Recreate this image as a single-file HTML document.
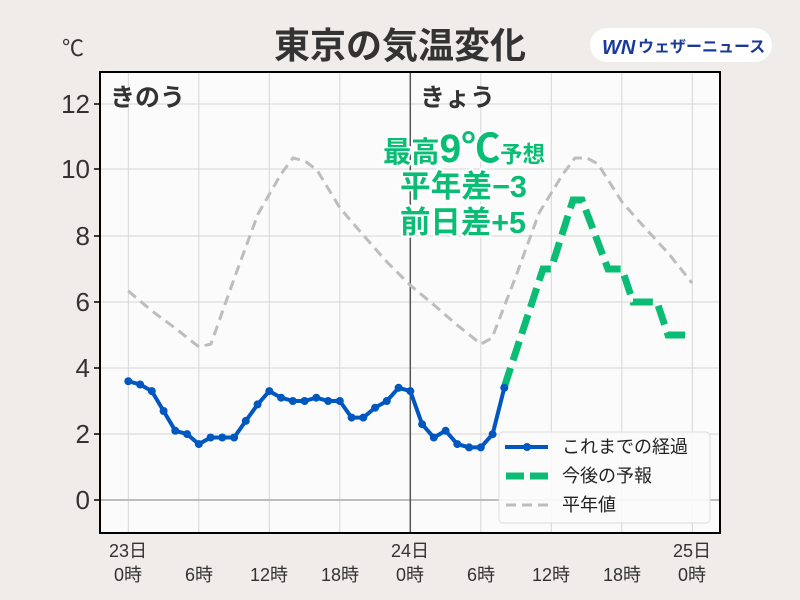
<!DOCTYPE html><html><head><meta charset="utf-8"><style>body{margin:0;background:#efecea;}svg{display:block;font-family:"Liberation Sans","Noto Sans CJK JP",sans-serif;}</style></head><body>
<svg width="800" height="600" viewBox="0 0 800 600">
<rect width="800" height="600" fill="#efecea"/>
<text x="400" y="58" text-anchor="middle" font-size="36" font-weight="bold" fill="#333">東京の気温変化</text>
<rect x="590" y="28" width="182" height="34" rx="17" fill="#fff"/>
<text x="602" y="54" font-size="20" font-weight="bold" font-style="italic" fill="#1a3a9a">WN</text>
<text x="638" y="52" font-size="16" font-weight="bold" fill="#1a3a9a">ウェザーニュース</text>
<text x="62" y="56" font-size="22" fill="#333">℃</text>
<rect x="100" y="72" width="620" height="461" fill="#fcfbfc"/>
<g stroke="#d6d6d6" stroke-width="1">
<line x1="100" x2="720" y1="104" y2="104"/><line x1="100" x2="720" y1="169" y2="169"/><line x1="100" x2="720" y1="236" y2="236"/><line x1="100" x2="720" y1="302" y2="302"/><line x1="100" x2="720" y1="368" y2="368"/><line x1="100" x2="720" y1="434" y2="434"/>
<line x1="128.3" x2="128.3" y1="72" y2="533"/><line x1="198.8" x2="198.8" y1="72" y2="533"/><line x1="269.3" x2="269.3" y1="72" y2="533"/><line x1="339.8" x2="339.8" y1="72" y2="533"/><line x1="480.8" x2="480.8" y1="72" y2="533"/><line x1="551.3" x2="551.3" y1="72" y2="533"/><line x1="621.8" x2="621.8" y1="72" y2="533"/><line x1="692.3" x2="692.3" y1="72" y2="533"/>
</g>
<line x1="100" x2="720" y1="500" y2="500" stroke="#bdbdbd" stroke-width="2"/>
<line x1="410.3" x2="410.3" y1="72" y2="533" stroke="#555" stroke-width="1.5"/>
<text x="110" y="106" font-size="25" font-weight="bold" fill="#333">きのう</text>
<text x="420" y="106" font-size="25" font-weight="bold" fill="#333">きょう</text>
<g font-weight="bold" fill="#0bbd74" font-size="31" stroke="#fff" stroke-width="4" paint-order="stroke">
<text x="383" y="162" textLength="162" lengthAdjust="spacingAndGlyphs"><tspan font-size="29">最高</tspan><tspan font-size="40">9℃</tspan><tspan font-size="23">予想</tspan></text>
<text x="400" y="197" textLength="127" lengthAdjust="spacingAndGlyphs">平年差−3</text>
<text x="400" y="233" textLength="126" lengthAdjust="spacingAndGlyphs">前日差+5</text>
</g>
<polyline fill="none" stroke="#bdbdbd" stroke-width="3" stroke-dasharray="10,6" points="128.3,291 152,311 175,328 199,347 211,344 234,279 258,214 281,174 293,158 305,161 317,170 340,208 364,236 387,262 410,285 434,305 457,325 481,344 492,338 516,276 539,213 563,174 575,158 587,158 598,164 622,202 645,228 669,254 692,283"/>
<polyline fill="none" stroke="#0bbd74" stroke-width="7" stroke-dasharray="20,8" points="504.3,387 543,269 551,269 573,200 582,200 608,269 622,269 633,302 657,302 668,335 692,335"/>
<polyline fill="none" stroke="#0057bf" stroke-width="4" stroke-linejoin="round" points="128.3,381.2 140.1,384.5 151.8,391.1 163.6,411.0 175.3,430.8 187.1,434.1 198.8,444.1 210.6,437.5 222.3,437.5 234.1,437.5 245.8,420.9 257.6,404.4 269.3,391.1 281.1,397.7 292.8,401.0 304.6,401.0 316.3,397.7 328.1,401.0 339.8,401.0 351.6,417.6 363.3,417.6 375.1,407.7 386.8,401.0 398.6,387.8 410.3,391.1 422.1,424.2 433.8,437.5 445.6,430.8 457.3,444.1 469.1,447.4 480.8,447.4 492.6,434.2 504.3,387.8"/>
<g fill="#0057bf"><circle cx="128.3" cy="381.2" r="4"/><circle cx="140.1" cy="384.5" r="4"/><circle cx="151.8" cy="391.1" r="4"/><circle cx="163.6" cy="411.0" r="4"/><circle cx="175.3" cy="430.8" r="4"/><circle cx="187.1" cy="434.1" r="4"/><circle cx="198.8" cy="444.1" r="4"/><circle cx="210.6" cy="437.5" r="4"/><circle cx="222.3" cy="437.5" r="4"/><circle cx="234.1" cy="437.5" r="4"/><circle cx="245.8" cy="420.9" r="4"/><circle cx="257.6" cy="404.4" r="4"/><circle cx="269.3" cy="391.1" r="4"/><circle cx="281.1" cy="397.7" r="4"/><circle cx="292.8" cy="401.0" r="4"/><circle cx="304.6" cy="401.0" r="4"/><circle cx="316.3" cy="397.7" r="4"/><circle cx="328.1" cy="401.0" r="4"/><circle cx="339.8" cy="401.0" r="4"/><circle cx="351.6" cy="417.6" r="4"/><circle cx="363.3" cy="417.6" r="4"/><circle cx="375.1" cy="407.7" r="4"/><circle cx="386.8" cy="401.0" r="4"/><circle cx="398.6" cy="387.8" r="4"/><circle cx="410.3" cy="391.1" r="4"/><circle cx="422.1" cy="424.2" r="4"/><circle cx="433.8" cy="437.5" r="4"/><circle cx="445.6" cy="430.8" r="4"/><circle cx="457.3" cy="444.1" r="4"/><circle cx="469.1" cy="447.4" r="4"/><circle cx="480.8" cy="447.4" r="4"/><circle cx="492.6" cy="434.2" r="4"/><circle cx="504.3" cy="387.8" r="4"/></g>
<rect x="499" y="432" width="211" height="91" rx="4" fill="#fcfbfc" fill-opacity="0.9" stroke="#ddd"/>
<line x1="505" x2="548" y1="447" y2="447" stroke="#0057bf" stroke-width="4"/><circle cx="527" cy="447" r="4" fill="#0057bf"/>
<line x1="506" x2="548" y1="476" y2="476" stroke="#0bbd74" stroke-width="7" stroke-dasharray="18,6"/>
<line x1="506" x2="548" y1="505" y2="505" stroke="#bdbdbd" stroke-width="3" stroke-dasharray="10,6"/>
<g font-size="18" fill="#222"><text x="562" y="453">これまでの経過</text><text x="562" y="482">今後の予報</text><text x="562" y="511">平年値</text></g>
<rect x="100" y="72" width="620" height="461" fill="none" stroke="#000" stroke-width="2"/>
<g font-size="26" fill="#333" text-anchor="end"><text x="90" y="113">12</text><text x="90" y="178">10</text><text x="90" y="245">8</text><text x="90" y="311">6</text><text x="90" y="377">4</text><text x="90" y="443">2</text><text x="90" y="509">0</text></g>
<g stroke="#000" stroke-width="1.5"><line x1="94" x2="100" y1="104" y2="104"/><line x1="94" x2="100" y1="169" y2="169"/><line x1="94" x2="100" y1="236" y2="236"/><line x1="94" x2="100" y1="302" y2="302"/><line x1="94" x2="100" y1="368" y2="368"/><line x1="94" x2="100" y1="434" y2="434"/><line x1="94" x2="100" y1="500" y2="500"/></g>
<g font-size="18" fill="#333" text-anchor="middle"><text x="128" y="557">23日</text><text x="128" y="581">0時</text><text x="199" y="581">6時</text><text x="269" y="581">12時</text><text x="340" y="581">18時</text><text x="410" y="557">24日</text><text x="410" y="581">0時</text><text x="481" y="581">6時</text><text x="551" y="581">12時</text><text x="622" y="581">18時</text><text x="692" y="557">25日</text><text x="692" y="581">0時</text></g>
</svg></body></html>
